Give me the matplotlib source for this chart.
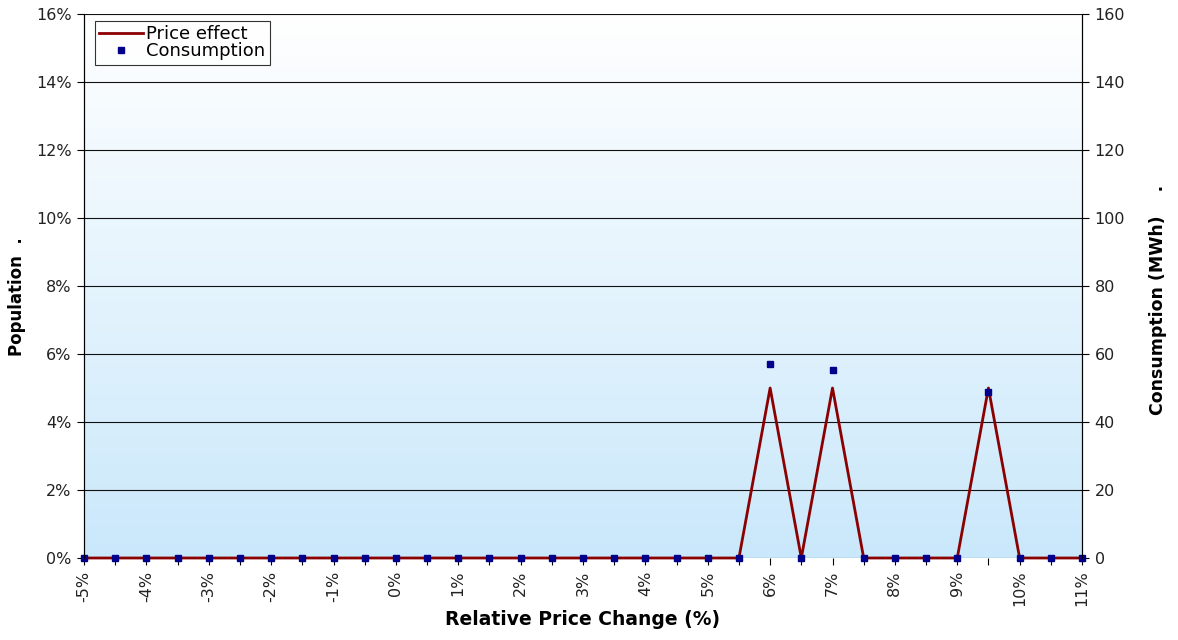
import numpy as np
import matplotlib
matplotlib.use("Agg")
import matplotlib.pyplot as plt
from matplotlib.colors import LinearSegmentedColormap

# ---------- data ----------
price_change = [-5.0 + 0.5 * i for i in range(33)]   # -5% .. 11% in half steps
price_effect = [0] * 22 + [5, 0, 5, 0, 0, 0, 0, 5, 0, 0, 0]          # population %
consumption = [0] * 22 + [57.2, 0, 55.4, 0, 0, 0, 0, 48.8, 0, 0, 0]  # MWh
x_labels = [f"{int(v)}%" if v == int(v) else "" for v in price_change]

# ---------- style ----------
plt.rcParams["font.family"] = "DejaVu Sans"
plt.rcParams["font.size"] = 10

W, H = 1178, 640
fig = plt.figure(figsize=(W / 100, H / 100), dpi=100)
ax = fig.add_axes([84 / W, 1 - 558 / H, (1082 - 84) / W, (558 - 14) / H])
ax2 = ax.twinx()

x = np.arange(len(price_change))

# gradient background (white at top, light blue at bottom)
bg = LinearSegmentedColormap.from_list("bg", ["#cae8fb", "#ffffff"])
ax.imshow(np.linspace(0, 1, 256).reshape(-1, 1), aspect="auto", cmap=bg,
          origin="lower", extent=[0, len(x) - 1, 0, 16], zorder=0)

ax.set_xlim(0, len(x) - 1)
ax.set_ylim(0, 16)
ax2.set_ylim(0, 160)

ax.yaxis.grid(True, color="#111111", linewidth=0.8, zorder=1)
ax.set_axisbelow(True)

line, = ax.plot(x, price_effect, color="#8b0000", linewidth=2, zorder=3,
                clip_on=False, label="Price effect")
ax2.set_zorder(ax.get_zorder() + 1)
ax2.patch.set_visible(False)
pts, = ax2.plot(x, consumption, linestyle="none", marker="s", markersize=4,
                color="#00008b", clip_on=False, label="Consumption")

ax.set_yticks(range(0, 17, 2))
ax.set_yticklabels([f"{v}%" for v in range(0, 17, 2)])
ax2.set_yticks(range(0, 161, 20))

ax.set_xticks(x)
ax.set_xticklabels(x_labels, rotation=90)

for a in (ax, ax2):
    a.tick_params(axis="both", direction="out", length=5, width=0.8,
                  colors="black", labelcolor="#222222", labelsize=11.5, pad=4)
    a.spines["top"].set_visible(False)
    a.spines["bottom"].set_visible(False)
    a.spines["left"].set_color("black")
    a.spines["right"].set_color("black")

ax.set_xlabel("Relative Price Change (%)", fontweight="bold", fontsize=13.5, labelpad=3)

# axis titles placed in figure pixels
fig.text(17 / W, 1 - 297 / H, "Population  .", rotation=90, ha="center", va="center",
         fontweight="bold", fontsize=12)
fig.text(1158 / W, 1 - 300 / H, "Consumption (MWh)    .", rotation=90, ha="center",
         va="center", fontweight="bold", fontsize=12.5)

leg = ax.legend([line, pts], ["Price effect", "Consumption"], loc="upper left",
                bbox_to_anchor=(0.011, 0.988), fontsize=13, frameon=True,
                fancybox=False, borderpad=0.25, handlelength=2.4, handletextpad=0.2,
                labelspacing=-0.05, borderaxespad=0)
leg.get_frame().set_edgecolor("black")
leg.get_frame().set_linewidth(0.8)
leg.get_frame().set_facecolor("white")
leg.set_zorder(10)

fig.savefig("out.png", dpi=100)
